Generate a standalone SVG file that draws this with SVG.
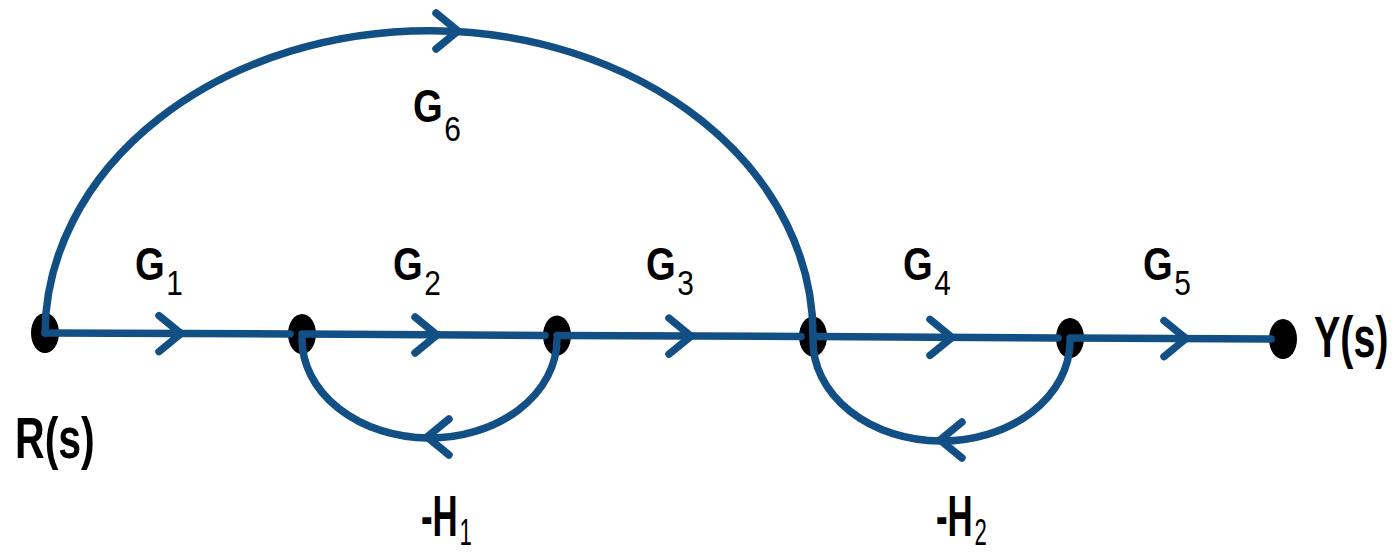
<svg xmlns="http://www.w3.org/2000/svg" xmlns:xlink="http://www.w3.org/1999/xlink" width="1399" height="552" viewBox="0 0 1399 552">
<style>
.edge{fill:none;stroke:#124f85;stroke-width:7.5;stroke-linecap:round;stroke-linejoin:round}
.chev{fill:none;stroke:#124f85;stroke-width:7.5;stroke-linecap:round;stroke-linejoin:miter}
.node{fill:#000}
.lbl{font-family:"Liberation Sans",Arial,sans-serif;font-weight:bold;fill:#000}
.sub{font-weight:normal}
</style>
<defs>
<path id="chev" d="M-22,-18 L0,0 L-22,18"/>
</defs>
<rect width="1399" height="552" fill="#fff"/>
<g id="node-R">
<ellipse class="node" cx="45" cy="333" rx="14" ry="20"/>
<text class="lbl" font-size="57" transform="translate(15,458) scale(0.72,1)">R(s)</text>
</g>
<g id="node-2"><ellipse class="node" cx="302" cy="334" rx="14" ry="20"/></g>
<g id="node-3"><ellipse class="node" cx="557" cy="335.5" rx="14" ry="20"/></g>
<g id="node-4"><ellipse class="node" cx="813" cy="336.5" rx="14" ry="20"/></g>
<g id="node-5"><ellipse class="node" cx="1070" cy="338" rx="14" ry="20"/></g>
<g id="node-Y">
<ellipse class="node" cx="1283" cy="339" rx="14" ry="20"/>
<text class="lbl" font-size="58" transform="translate(1314,357) scale(0.68,1)">Y(s)</text>
</g>
<g id="connectors">
<path class="edge" d="M45,333 L290,334"/>
<path class="edge" d="M302,334 L545,335.5"/>
<path class="edge" d="M557,335.5 L801,336.5"/>
<path class="edge" d="M813,336.5 L1058,338"/>
<path class="edge" d="M1070,338 L1271,339"/>
<path class="edge" d="M45,333 A384,304 0 0 1 813,336.5"/>
<path class="edge" d="M557,340 A127.5,99 0 0 1 302,338"/>
<path class="edge" d="M1070,342 A128.5,100 0 0 1 813,340"/>
<use class="chev" xlink:href="#chev" transform="translate(181,333.6)"/>
<use class="chev" xlink:href="#chev" transform="translate(437,335)"/>
<use class="chev" xlink:href="#chev" transform="translate(691,336.2)"/>
<use class="chev" xlink:href="#chev" transform="translate(952,337.4)"/>
<use class="chev" xlink:href="#chev" transform="translate(1186,338.6)"/>
<use class="chev" xlink:href="#chev" transform="translate(458,31)"/>
<use class="chev" xlink:href="#chev" transform="translate(427,437) rotate(180)"/>
<use class="chev" xlink:href="#chev" transform="translate(940,440) rotate(180)"/>
</g>
<g id="labels">
<text class="lbl" font-size="46" transform="translate(135,280) scale(0.83,1)">G<tspan class="sub" font-size="36" dx="2" dy="15">1</tspan></text>
<text class="lbl" font-size="46" transform="translate(393,280) scale(0.83,1)">G<tspan class="sub" font-size="36" dx="2" dy="15">2</tspan></text>
<text class="lbl" font-size="46" transform="translate(646,280) scale(0.83,1)">G<tspan class="sub" font-size="36" dx="2" dy="15">3</tspan></text>
<text class="lbl" font-size="46" transform="translate(903,280) scale(0.83,1)">G<tspan class="sub" font-size="36" dx="2" dy="15">4</tspan></text>
<text class="lbl" font-size="46" transform="translate(1143,280) scale(0.83,1)">G<tspan class="sub" font-size="36" dx="2" dy="15">5</tspan></text>
<text class="lbl" font-size="46" transform="translate(413,122) scale(0.83,1)">G<tspan class="sub" font-size="36" dx="2" dy="19">6</tspan></text>
<text class="lbl" font-size="58" transform="translate(421,536) scale(0.6,1)">-H<tspan class="sub" font-size="37" dx="3" dy="9">1</tspan></text>
<text class="lbl" font-size="58" transform="translate(936,536) scale(0.6,1)">-H<tspan class="sub" font-size="37" dx="3" dy="9">2</tspan></text>
</g>
</svg>
